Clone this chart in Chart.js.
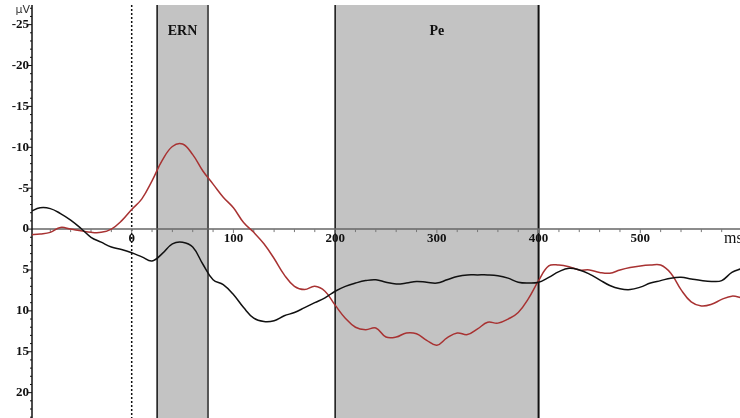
<!DOCTYPE html>
<html>
<head>
<meta charset="utf-8">
<script src="https://cdn.jsdelivr.net/npm/chart.js@4.4.1/dist/chart.umd.min.js"></script>
<style>
  html, body { margin: 0; padding: 0; background: #fff; }
  #wrap { position: relative; width: 740px; height: 418px; }
</style>
</head>
<body>
<div id="wrap"><canvas id="erp"></canvas></div>
<script>
// Temps (ms) - un point toutes les 10 ms
var times = [-100, -90, -80, -70, -60, -50, -40, -30, -20, -10,
    0, 10, 20, 30, 40, 50, 60, 70, 80, 90,
    100, 110, 120, 130, 140, 150, 160, 170, 180, 190,
    200, 210, 220, 230, 240, 250, 260, 270, 280, 290,
    300, 310, 320, 330, 340, 350, 360, 370, 380, 390,
    400, 410, 420, 430, 440, 450, 460, 470, 480, 490,
    500, 510, 520, 530, 540, 550, 560, 570, 580, 590, 600];

// Courbe noire (µV)
var blackValues = [-2.1, -2.6, -2.5, -1.9, -1.1, -0.1, 1.0, 1.6, 2.2, 2.5,
    2.9, 3.4, 3.9, 3.0, 1.8, 1.6, 2.2, 4.3, 6.2, 6.8,
    8.0, 9.6, 10.9, 11.3, 11.2, 10.6, 10.2, 9.6, 9.0, 8.4,
    7.6, 7.0, 6.6, 6.3, 6.2, 6.5, 6.7, 6.6, 6.4, 6.5,
    6.6, 6.2, 5.8, 5.6, 5.6, 5.6, 5.7, 6.0, 6.5, 6.6,
    6.5, 5.9, 5.2, 4.8, 5.0, 5.5, 6.2, 6.9, 7.3, 7.4,
    7.1, 6.6, 6.3, 6.0, 5.9, 6.1, 6.3, 6.4, 6.3, 5.3, 4.8];

// Courbe rouge (µV)
var redValues = [0.7, 0.6, 0.4, -0.2, 0.0, 0.2, 0.4, 0.4, 0.0, -1.0,
    -2.4, -3.7, -5.9, -8.4, -10.1, -10.4, -9.1, -7.1, -5.5, -3.9,
    -2.6, -0.8, 0.4, 1.8, 3.6, 5.6, 7.0, 7.4, 7.0, 7.6,
    9.3, 10.9, 12.0, 12.3, 12.1, 13.2, 13.2, 12.7, 12.8, 13.6,
    14.2, 13.3, 12.7, 12.9, 12.2, 11.4, 11.5, 11.0, 10.2, 8.5,
    6.3, 4.5, 4.4, 4.6, 5.0, 5.0, 5.3, 5.4, 5.0, 4.7,
    4.5, 4.4, 4.4, 5.4, 7.4, 8.9, 9.4, 9.2, 8.6, 8.2, 8.4];

// Fenêtres ERN / Pe
var regionLabels = ['ERN', 'Pe'];
var regionStart  = [25, 200];
var regionEnd    = [75, 400];

// Graduations
var xTicks = [0, 100, 200, 300, 400, 500];
var yTicks = [-25, -20, -15, -10, -5, 0, 5, 10, 15, 20];

function toPoints(vals) {
    return times.map(function (t, i) { return { x: t, y: vals[i] }; });
}

var serifBold = 'bold 13px "Liberation Serif", "DejaVu Serif", serif';

var erpDecor = {
    id: 'erpDecor',
    beforeDatasetsDraw: function (chart) {
        var ctx = chart.ctx;
        var xs = chart.scales.x, ys = chart.scales.y;
        var top = chart.chartArea.top, bottom = chart.chartArea.bottom;
        var left = chart.chartArea.left, right = chart.chartArea.right;
        ctx.save();

        // Zones grisées
        regionLabels.forEach(function (lab, i) {
            var x0 = xs.getPixelForValue(regionStart[i]);
            var x1 = xs.getPixelForValue(regionEnd[i]);
            ctx.fillStyle = '#c3c3c3';
            ctx.fillRect(x0, top, x1 - x0, bottom - top);
            ctx.strokeStyle = '#111';
            ctx.lineWidth = 1.5;
            ctx.beginPath();
            ctx.moveTo(x0, top); ctx.lineTo(x0, bottom);
            ctx.stroke();
            ctx.strokeStyle = i === 0 ? '#555' : '#111';
            ctx.lineWidth = 2;
            ctx.beginPath();
            ctx.moveTo(x1, top); ctx.lineTo(x1, bottom);
            ctx.stroke();
            ctx.fillStyle = '#111';
            ctx.font = 'bold 14px "Liberation Serif", "DejaVu Serif", serif';
            ctx.textAlign = 'center';
            ctx.textBaseline = 'middle';
            ctx.fillText(lab, (x0 + x1) / 2, 31);
        });

        // Ligne pointillée à 0 ms
        var xz = xs.getPixelForValue(0);
        ctx.strokeStyle = '#111';
        ctx.lineWidth = 1.5;
        ctx.setLineDash([2, 2]);
        ctx.beginPath();
        ctx.moveTo(xz, top); ctx.lineTo(xz, bottom);
        ctx.stroke();
        ctx.setLineDash([]);

        // Axe des x (à 0 µV)
        var y0 = ys.getPixelForValue(0);
        ctx.strokeStyle = '#666';
        ctx.lineWidth = 1.5;
        ctx.beginPath();
        ctx.moveTo(left, y0); ctx.lineTo(right, y0);
        ctx.stroke();
        ctx.lineWidth = 1;
        ctx.strokeStyle = '#777';
        for (var t = -80; t <= 580; t += 20) {
            var xp = xs.getPixelForValue(t);
            ctx.beginPath();
            ctx.moveTo(xp, y0); ctx.lineTo(xp, y0 + (t % 100 === 0 ? 4 : 3));
            ctx.stroke();
        }
        ctx.fillStyle = '#111';
        ctx.font = serifBold;
        ctx.textAlign = 'center';
        ctx.textBaseline = 'middle';
        xTicks.forEach(function (v) {
            ctx.fillText(String(v), xs.getPixelForValue(v), y0 + 10);
        });
        ctx.font = '16px "Liberation Serif", "DejaVu Serif", serif';
        ctx.textAlign = 'left';
        ctx.fillText('ms', 724, y0 + 10);

        // Axe des y
        ctx.strokeStyle = '#111';
        ctx.lineWidth = 1.5;
        ctx.beginPath();
        ctx.moveTo(left, top); ctx.lineTo(left, bottom);
        ctx.stroke();
        ctx.lineWidth = 1;
        for (var v = -27; v <= 23; v++) {
            var yp = ys.getPixelForValue(v);
            ctx.beginPath();
            ctx.moveTo(left - (v % 5 === 0 ? 4 : 2), yp); ctx.lineTo(left, yp);
            ctx.stroke();
        }
        ctx.font = serifBold;
        ctx.textAlign = 'right';
        yTicks.forEach(function (v) {
            ctx.fillText(String(v), left - 3, ys.getPixelForValue(v));
        });
        ctx.font = '11px "DejaVu Sans", sans-serif';
        ctx.fillStyle = '#333';
        ctx.textAlign = 'right';
        ctx.fillText('µV', left - 2, 10);

        ctx.restore();
    }
};

new Chart(document.getElementById('erp'), {
    type: 'line',
    data: {
        datasets: [
            {
                label: 'noir',
                data: toPoints(blackValues),
                borderColor: '#111',
                borderWidth: 1.5,
                pointRadius: 0,
                tension: 0.4,
                fill: false
            },
            {
                label: 'rouge',
                data: toPoints(redValues),
                borderColor: '#a83232',
                borderWidth: 1.5,
                pointRadius: 0,
                tension: 0.4,
                fill: false
            }
        ]
    },
    options: {
        responsive: true,
        maintainAspectRatio: false,
        animation: false,
        layout: { padding: { left: 32, top: 5, right: 0, bottom: 0 } },
        plugins: {
            legend: { display: false },
            tooltip: { enabled: false }
        },
        scales: {
            x: { type: 'linear', min: -98, max: 598, display: false },
            y: { min: -27.4, max: 23.1, reverse: true, display: false }
        }
    },
    plugins: [erpDecor]
});
</script>
</body>
</html>
